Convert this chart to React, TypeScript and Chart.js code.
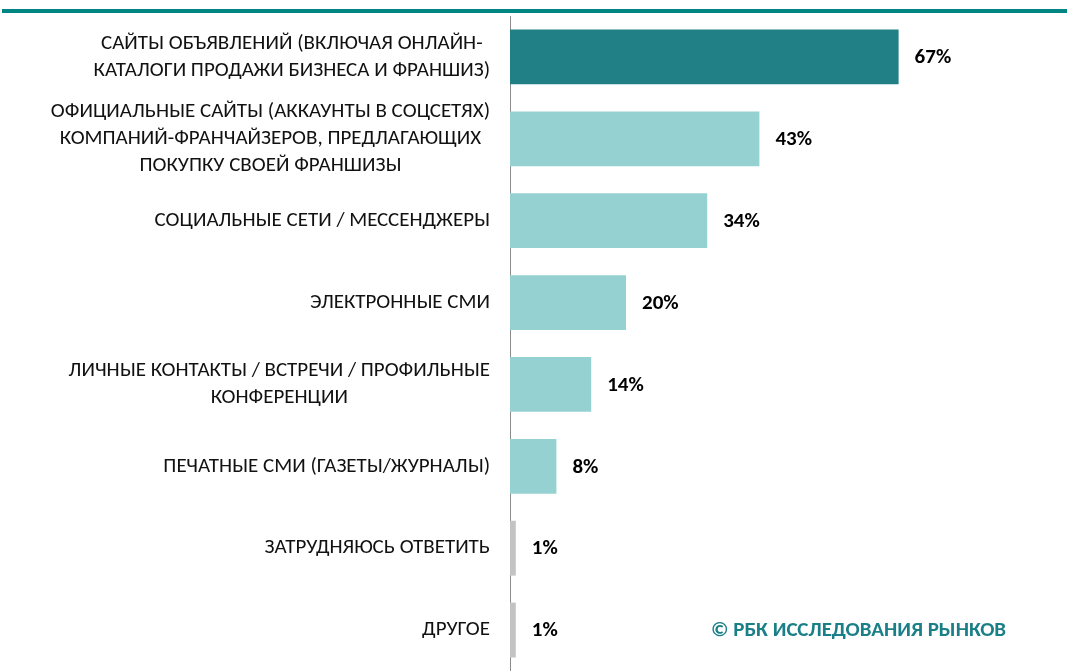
import React, { useEffect, useRef } from "react";
import { Chart, registerables } from "chart.js";

Chart.register(...registerables);

const categories: string[][] = [
  ["САЙТЫ ОБЪЯВЛЕНИЙ (ВКЛЮЧАЯ ОНЛАЙН-", "КАТАЛОГИ ПРОДАЖИ БИЗНЕСА И ФРАНШИЗ)"],
  ["ОФИЦИАЛЬНЫЕ САЙТЫ (АККАУНТЫ В СОЦСЕТЯХ)", "КОМПАНИЙ-ФРАНЧАЙЗЕРОВ, ПРЕДЛАГАЮЩИХ", "ПОКУПКУ СВОЕЙ ФРАНШИЗЫ"],
  ["СОЦИАЛЬНЫЕ СЕТИ / МЕССЕНДЖЕРЫ"],
  ["ЭЛЕКТРОННЫЕ СМИ"],
  ["ЛИЧНЫЕ КОНТАКТЫ / ВСТРЕЧИ / ПРОФИЛЬНЫЕ", "КОНФЕРЕНЦИИ"],
  ["ПЕЧАТНЫЕ СМИ (ГАЗЕТЫ/ЖУРНАЛЫ)"],
  ["ЗАТРУДНЯЮСЬ ОТВЕТИТЬ"],
  ["ДРУГОЕ"],
];

const values: number[] = [67, 43, 34, 20, 14, 8, 1, 1];

const barColors: string[] = [
  "#208085", "#96d1d2", "#96d1d2", "#96d1d2", "#96d1d2", "#96d1d2", "#c3c3c3", "#c3c3c3",
];

const watermark = "© РБК ИССЛЕДОВАНИЯ РЫНКОВ";

const FONT = "Carlito, Roboto, 'Noto Sans', sans-serif";

const decorPlugin = {
  id: "decor",
  afterDraw(chart: any) {
    const ctx = chart.ctx as CanvasRenderingContext2D;
    const yScale = chart.scales.y;
    ctx.save();
    // top rule
    ctx.fillStyle = "#008583";
    ctx.fillRect(2, 9, chart.width - 2, 4);

    // category labels: block right-aligned, lines centered
    ctx.font = `21px ${FONT}`;
    ctx.fillStyle = "#111";
    ctx.textBaseline = "middle";
    ctx.textAlign = "center";
    const rightX = 490;
    const lh = 27;
    categories.forEach((lines, i) => {
      const cy = yScale.getPixelForValue(i);
      const maxW = Math.max(...lines.map((l) => ctx.measureText(l).width));
      const cx = rightX - maxW / 2;
      lines.forEach((l, j) => {
        ctx.fillText(l, cx, cy + (j - (lines.length - 1) / 2) * lh);
      });
    });

    // value labels
    const meta = chart.getDatasetMeta(0);
    ctx.font = `bold 21px ${FONT}`;
    ctx.fillStyle = "#000";
    ctx.textAlign = "left";
    meta.data.forEach((bar: any, i: number) => {
      ctx.fillText(`${values[i]}%`, bar.x + 16, bar.y + 1);
    });

    // watermark
    ctx.font = `bold 21px ${FONT}`;
    ctx.fillStyle = "#1a7f86";
    ctx.textAlign = "left";
    ctx.fillText(watermark, 711, yScale.getPixelForValue(7) + 1);
    ctx.restore();
  },
};

export default function App() {
  const ref = useRef<HTMLCanvasElement | null>(null);
  useEffect(() => {
    if (!ref.current) return;
    const chart = new Chart(ref.current, {
      type: "bar",
      data: {
        labels: categories.map((c) => c.join(" ")),
        datasets: [
          {
            data: values,
            backgroundColor: barColors,
            borderWidth: 0,
            categoryPercentage: 0.67,
            barPercentage: 1,
          },
        ],
      },
      options: {
        indexAxis: "y",
        responsive: false,
        animation: false,
        layout: { padding: { top: 16, right: 35, bottom: 0, left: 0 } },
        plugins: { legend: { display: false }, tooltip: { enabled: false } },
        scales: {
          x: { display: false, min: 0, max: 90 },
          y: {
            display: true,
            grid: { display: false, drawTicks: false },
            ticks: { display: false },
            border: { display: true, color: "#8c8c8c", width: 1 },
            afterFit: (scale: any) => {
              scale.width = 510;
            },
          },
        },
      },
      plugins: [decorPlugin],
    });
    return () => chart.destroy();
  }, []);
  return (
    <div style={{ position: "absolute", left: 0, top: 0, width: 1067, height: 671, background: "#fff" }}>
      <canvas ref={ref} width={1067} height={671} style={{ display: "block" }} />
    </div>
  );
}
